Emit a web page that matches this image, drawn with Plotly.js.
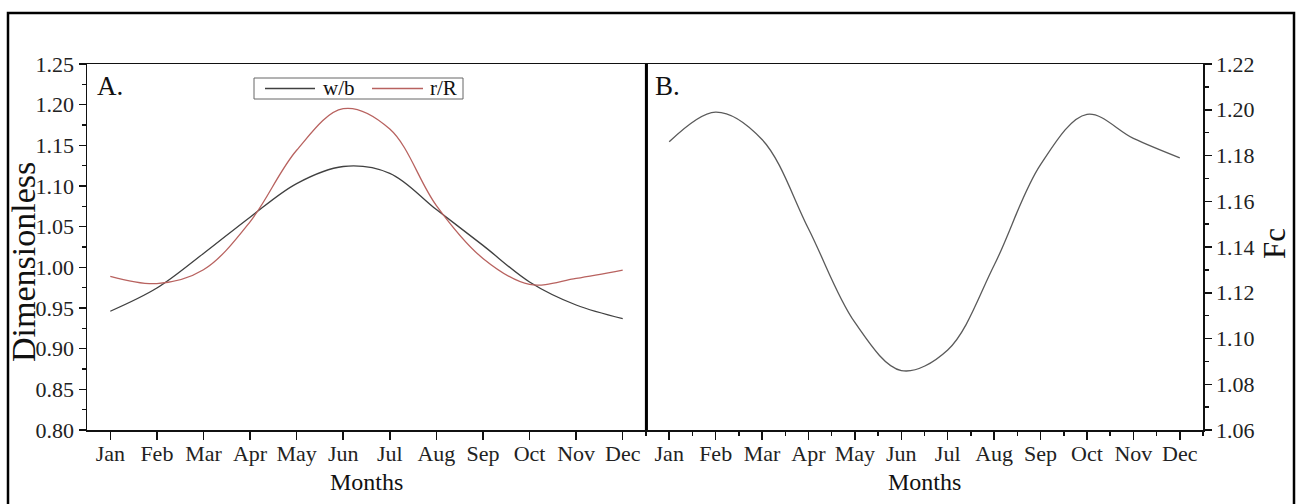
<!DOCTYPE html>
<html>
<head>
<meta charset="utf-8">
<script src="https://cdn.plot.ly/plotly-3.0.1.min.js"></script>
<style>html,body{margin:0;padding:0;background:#fff;}#chart{width:1297px;height:504px;}</style>
</head>
<body>
<div id="chart"></div>
<script>
// ---- data ----
const months = ['Jan','Feb','Mar','Apr','May','Jun','Jul','Aug','Sep','Oct','Nov','Dec'];
const monthIndex = [0,1,2,3,4,5,6,7,8,9,10,11];
const wbValues = [0.946, 0.9745, 1.017, 1.0617, 1.103, 1.124, 1.1156, 1.071, 1.027, 0.982, 0.9537, 0.937];
const rRValues = [0.989, 0.980, 0.997, 1.056, 1.144, 1.195, 1.170, 1.076, 1.011, 0.979, 0.9865, 0.9967];
const fcValues = [1.186, 1.199, 1.187, 1.148, 1.107, 1.086, 1.095, 1.132, 1.176, 1.198, 1.1875, 1.179];
const seriesNames = ['w/b', 'r/R'];
const fcName = 'Fc';

// ---- pixel helpers (layout only) ----
const W = 1297, H = 504;
const px = x => x / W;
const py = y => 1 - y / H;

const FONT = 'Liberation Serif, Times New Roman, serif';
const DARK = '#404040';
const RED = '#b8625f';
const GRAY = '#5a5a5a';
const SMOOTH = 1;

const traces = [
  {x: monthIndex, y: wbValues, name: seriesNames[0], type: 'scatter', mode: 'lines',
   line: {color: DARK, width: 1.3, shape: 'spline', smoothing: SMOOTH}, xaxis: 'x', yaxis: 'y', showlegend: false},
  {x: monthIndex, y: rRValues, name: seriesNames[1], type: 'scatter', mode: 'lines',
   line: {color: RED, width: 1.3, shape: 'spline', smoothing: SMOOTH}, xaxis: 'x', yaxis: 'y', showlegend: false},
  {x: monthIndex, y: fcValues, name: fcName, type: 'scatter', mode: 'lines',
   line: {color: GRAY, width: 1.3, shape: 'spline', smoothing: SMOOTH}, xaxis: 'x2', yaxis: 'y2', showlegend: false}
];

const tickFont = {family: FONT, size: 22, color: '#222'};
const halfTicks = monthIndex.map(m => m + 0.5).concat([-0.5]);

const xCommon = {
  range: [-0.5, 11.5], tickmode: 'array', tickvals: monthIndex, ticktext: months,
  ticks: 'outside', ticklen: 8, tickwidth: 1.5, tickcolor: '#111', ticklabelstandoff: -5,
  showline: true, linecolor: '#111', linewidth: 1.5, mirror: true,
  showgrid: false, zeroline: false, tickfont: tickFont, fixedrange: true
};
const yCommon = {
  ticks: 'outside', ticklen: 7, tickwidth: 1.5, tickcolor: '#111',
  showline: true, linecolor: '#111', linewidth: 1.5, mirror: true,
  showgrid: false, zeroline: false, tickfont: tickFont, tickformat: '.2f', fixedrange: true
};

const annFont = (s) => ({family: FONT, size: s, color: '#111'});

const layout = {
  width: W, height: H,
  margin: {l: 0, r: 0, t: 0, b: 0},
  paper_bgcolor: '#fff', plot_bgcolor: '#fff',
  showlegend: false,
  xaxis: Object.assign({}, xCommon, {domain: [px(87), px(646)], anchor: 'y'}),
  yaxis: Object.assign({}, yCommon, {domain: [py(430), py(64)], anchor: 'x', range: [0.80, 1.25],
    tick0: 0.80, dtick: 0.05, minor: {dtick: 0.025, ticklen: 4, tickwidth: 1.5, tickcolor: '#111'}}),
  xaxis2: Object.assign({}, xCommon, {domain: [px(646), px(1203)], anchor: 'y2',
    minor: {tickmode: 'array', tickvals: halfTicks, ticklen: 4, tickwidth: 1.5, tickcolor: '#111'}}),
  yaxis2: Object.assign({}, yCommon, {domain: [py(430), py(64)], anchor: 'x2', side: 'right', range: [1.06, 1.22],
    tick0: 1.06, dtick: 0.02, minor: {dtick: 0.01, ticklen: 4, tickwidth: 1.5, tickcolor: '#111'}}),
  shapes: [
    // outer frame
    {type: 'rect', xref: 'paper', yref: 'paper', x0: px(8), x1: px(1294), y0: py(520), y1: py(13),
     line: {color: '#000', width: 2.5}},
    // divider between panels
    {type: 'line', xref: 'paper', yref: 'paper', x0: px(646), x1: px(646), y0: py(430), y1: py(64),
     line: {color: '#000', width: 2.2}},
    // legend box
    {type: 'rect', xref: 'paper', yref: 'paper', x0: px(254), x1: px(463), y0: py(99), y1: py(78),
     line: {color: '#666', width: 1}},
    {type: 'line', xref: 'paper', yref: 'paper', x0: px(265), x1: px(315), y0: py(88.5), y1: py(88.5),
     line: {color: DARK, width: 1.3}},
    {type: 'line', xref: 'paper', yref: 'paper', x0: px(372), x1: px(423), y0: py(88.5), y1: py(88.5),
     line: {color: RED, width: 1.3}}
  ],
  annotations: [
    {text: seriesNames[0], xref: 'paper', yref: 'paper', x: px(321), y: py(88), xanchor: 'left', yanchor: 'middle',
     showarrow: false, font: annFont(21)},
    {text: seriesNames[1], xref: 'paper', yref: 'paper', x: px(428), y: py(88), xanchor: 'left', yanchor: 'middle',
     showarrow: false, font: annFont(21)},
    {text: 'A.', xref: 'paper', yref: 'paper', x: px(95), y: py(86), xanchor: 'left', yanchor: 'middle',
     showarrow: false, font: annFont(27)},
    {text: 'B.', xref: 'paper', yref: 'paper', x: px(653), y: py(86), xanchor: 'left', yanchor: 'middle',
     showarrow: false, font: annFont(27)},
    {text: 'Months', xref: 'paper', yref: 'paper', x: px(366.5), y: py(482), xanchor: 'center', yanchor: 'middle',
     showarrow: false, font: annFont(24)},
    {text: 'Months', xref: 'paper', yref: 'paper', x: px(924.5), y: py(482), xanchor: 'center', yanchor: 'middle',
     showarrow: false, font: annFont(24)},
    {text: 'Dimensionless', xref: 'paper', yref: 'paper', x: px(23), y: py(262), xanchor: 'center', yanchor: 'middle',
     textangle: -90, showarrow: false, font: annFont(34)},
    {text: fcName, xref: 'paper', yref: 'paper', x: px(1274), y: py(244), xanchor: 'center', yanchor: 'middle',
     textangle: -90, showarrow: false, font: annFont(31)}
  ]
};

Plotly.newPlot('chart', traces, layout, {displayModeBar: false, staticPlot: true});
</script>
</body>
</html>
